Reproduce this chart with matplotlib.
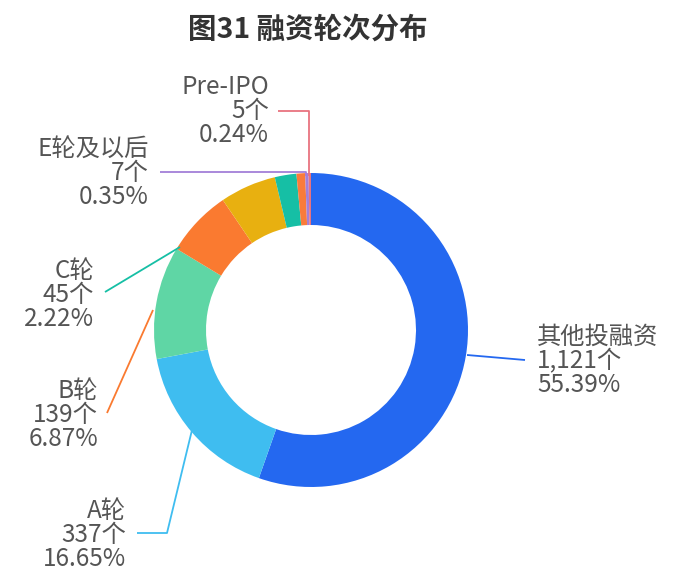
import matplotlib.pyplot as plt

plt.rcParams['font.family'] = ['Noto Sans CJK SC', 'DejaVu Sans']

# slices clockwise from the top
names = ['其他投融资', 'A轮', '天使轮', 'B轮', 'D轮', 'C轮', '战略投资', 'E轮及以后', 'Pre-IPO']
counts = [1121, 337, 235, 139, 117, 45, 18, 7, 5]
pcts = [55.39, 16.65, 11.61, 6.87, 5.78, 2.22, 0.89, 0.35, 0.24]
colors = ['#2468F0', '#3FBDF0', '#5FD6A5', '#FA7A30', '#E8B010', '#16BFA5',
          '#F97B3A', '#A37FD8', '#E8737F']
shown = ['其他投融资', 'A轮', 'B轮', 'C轮', 'E轮及以后', 'Pre-IPO']

W, H = 679, 579
fig = plt.figure(figsize=(W / 100, H / 100), dpi=100)
ax = fig.add_axes([0, 0, 1, 1])


def Y(y):
    return H - y


cx, cy, R = 311, 330, 157
ax.pie(counts, colors=colors, startangle=90, counterclock=False,
       center=(cx, Y(cy)), radius=R, frame=True,
       wedgeprops=dict(width=52, edgecolor='none', linewidth=0))
ax.set_xlim(0, W)
ax.set_ylim(0, H)
ax.set_aspect('equal')
ax.axis('off')

# label layout: line points (pixel coords), text anchor (middle line)
layout = {
    '其他投融资': dict(pts=[(467, 355), (525, 360)], xy=(537, 358), ha='left'),
    'A轮': dict(pts=[(192, 430), (167, 533), (137, 533)], xy=(126, 532), ha='right'),
    'B轮': dict(pts=[(153, 310), (107, 413)], xy=(98, 412), ha='right'),
    'C轮': dict(pts=[(180, 247), (105, 292)], xy=(94, 292), ha='right'),
    'E轮及以后': dict(pts=[(160, 172), (306, 172), (306, 176)], xy=(149, 170), ha='right'),
    'Pre-IPO': dict(pts=[(278, 111), (309, 111), (309, 176)], xy=(269, 108), ha='right'),
}
step = 24.5

for name, n, p, c in zip(names, counts, pcts, colors):
    if name not in shown:
        continue
    lo = layout[name]
    xs = [q[0] for q in lo['pts']]
    ys = [Y(q[1]) for q in lo['pts']]
    ax.plot(xs, ys, color=c, lw=1.3, solid_capstyle='butt')
    rows = [name, format(n, ',') + '个', '%.2f%%' % p]
    for i, row in enumerate(rows):
        ax.text(lo['xy'][0], Y(lo['xy'][1] + (i - 1) * step), row,
                ha=lo['ha'], va='center_baseline', fontsize=17.5, color='#555555')

ax.text(308, Y(30), '图31 融资轮次分布', ha='center', va='center',
        fontsize=20.5, fontweight='bold', color='#333333')

fig.savefig('out.png', dpi=100, facecolor='white')
